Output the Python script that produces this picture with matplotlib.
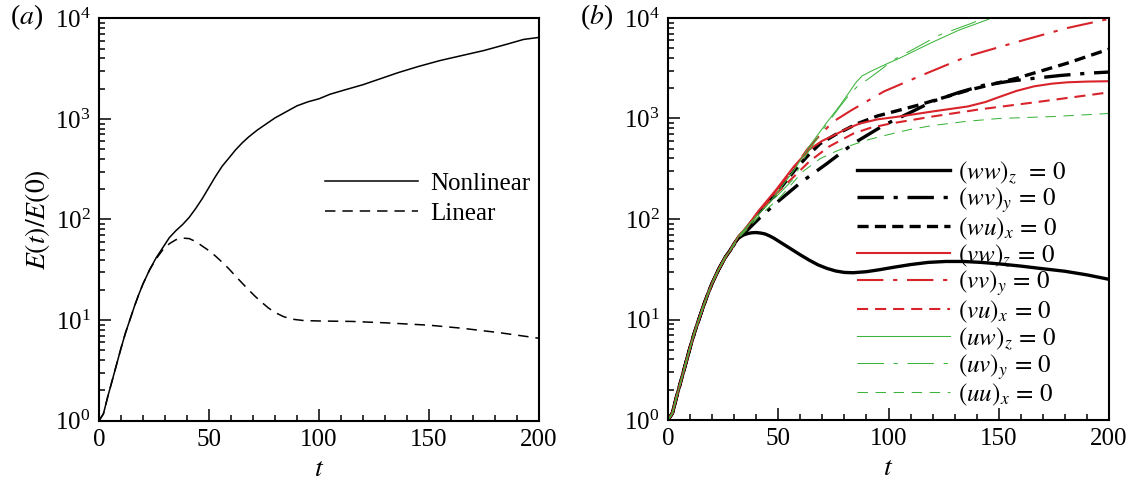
import matplotlib
matplotlib.use("Agg")
import matplotlib.pyplot as plt
from matplotlib.ticker import MultipleLocator, LogLocator, NullFormatter
import numpy as np

plt.rcParams['font.family'] = ['Liberation Serif', 'DejaVu Serif']
plt.rcParams['mathtext.fontset'] = 'stix'
plt.rcParams['lines.scale_dashes'] = False
plt.rcParams['font.size'] = 18

# ---- panel (a) data ----
t_nonlin = [0, 2, 4, 6, 8, 10, 12, 14, 16, 18, 20, 23, 26, 29, 32, 35, 38, 41, 44, 47, 50,
            53, 56, 59, 62, 65, 68, 72, 76, 80, 85, 90, 95, 100, 105, 112, 120, 128, 136,
            145, 155, 165, 175, 185, 193, 200]
E_nonlin = [1, 1.17, 1.74, 2.51, 3.63, 5.25, 7.41, 10, 13.5, 17.8, 22.9, 31.6, 41.7, 52.5,
            66.1, 77.6, 89.1, 105, 129, 162, 209, 269, 339, 407, 490, 575, 661, 776, 891,
            1023, 1175, 1349, 1479, 1585, 1758, 1950, 2188, 2512, 2884, 3311, 3802, 4266,
            4786, 5495, 6166, 6457]
t_lin = [0, 2, 4, 6, 8, 10, 12, 14, 16, 18, 20, 23, 26, 29, 32, 35, 38, 41, 44, 47, 50, 53,
         56, 59, 62, 65, 68, 71, 74, 77, 80, 84, 88, 93, 100, 115, 130, 150, 165, 182, 200]
E_lin = [1, 1.17, 1.74, 2.51, 3.63, 5.25, 7.41, 10, 13.5, 17.8, 22.9, 31.6, 40.7, 50, 57.5,
         63, 65.3, 64.6, 60.3, 54.3, 49, 43.2, 37.6, 32.4, 27.5, 23.4, 20, 17.2, 15, 13.2,
         11.9, 10.8, 10.2, 9.9, 9.8, 9.7, 9.4, 8.9, 8.3, 7.5, 6.6]

# ---- panel (b) data ----
t_early = [0, 2, 4, 6, 8, 10, 12, 14, 16, 18, 20, 23, 26, 28]
E_early = [1, 1.17, 1.74, 2.51, 3.63, 5.25, 7.41, 10, 13.5, 17.8, 22.9, 31.6, 41.7, 48]

t_ww = [30, 32, 34, 36, 38, 40, 42, 44, 46, 48, 50, 53, 56, 60, 64, 68, 72, 76, 80, 84, 90,
        96, 102, 110, 118, 126, 134, 142, 150, 160, 170, 180, 190, 200]
E_ww = [57, 64.6, 69, 71.5, 73, 73.3, 72.5, 71, 68, 64.5, 60.5, 55, 50, 44, 39, 35, 32.3,
        30.4, 29.4, 29.2, 29.9, 31.3, 33, 35.2, 37, 37.8, 37.8, 37, 35.8, 34, 32, 30.2,
        27.8, 25.1]
t_wv = [32, 36, 43, 50, 60, 72, 84, 98, 110, 120, 132, 143, 155, 166, 178, 190, 200]
E_wv = [64.6, 77.6, 110, 150, 229, 355, 562, 861, 1150, 1479, 1820, 2138, 2350, 2512, 2680,
        2818, 2900]
t_wu = [32, 36, 41, 49, 58, 64, 69, 76, 86, 95, 113, 136, 158, 181, 200]
E_wu = [66, 83, 115, 178, 316, 440, 562, 692, 891, 1060, 1349, 1905, 2512, 3548, 4900]
t_vw = [32, 36, 41, 49, 57, 64, 70, 75, 81, 87, 95, 105, 120, 136, 144, 151, 158, 166, 174,
        181, 190, 200]
E_vw = [67.6, 85, 120, 195, 331, 490, 600, 676, 790, 891, 980, 1047, 1175, 1318, 1460, 1660,
        1880, 2089, 2220, 2291, 2330, 2350]
t_vv = [32, 36, 41, 49, 57, 63, 70, 75, 83, 98, 114, 136, 158, 181, 200]
E_vv = [66, 83, 117, 191, 316, 490, 724, 933, 1202, 1862, 2630, 4169, 5754, 7943, 9800]
t_vu = [32, 36, 41, 49, 57, 64, 73, 84, 92, 101, 120, 141, 166, 200]
E_vu = [66, 83, 115, 178, 263, 372, 525, 708, 810, 891, 1047, 1230, 1445, 1820]
t_uw = [32, 36, 41, 46, 57, 64, 72, 78, 82, 85, 88, 92, 98, 105, 120, 132, 144.5, 151]
E_uw = [67.6, 85, 112, 145, 302, 525, 912, 1350, 1800, 2250, 2650, 2950, 3400, 3981, 5754,
        7586, 9550, 11000]
t_uv = [32, 36, 41, 49, 57, 61, 70, 78, 82, 86, 90, 96, 102, 113, 123, 138, 145]
E_uv = [66, 83, 112, 166, 251, 380, 759, 1318, 1700, 2100, 2400, 3000, 3800, 5129, 6761,
        8913, 10471]
t_uu = [32, 36, 41, 51, 61, 69, 76, 84, 92, 100, 110, 120, 135, 150, 175, 200]
E_uu = [64.6, 79.4, 105, 166, 295, 398, 470, 550, 625, 692, 780, 851, 935, 1000, 1047, 1122]

labels_b = [r"$(ww)_z\ \,=\, 0$", r"$(wv)_y \,=\, 0$", r"$(wu)_x \,=\, 0$",
            r"$(vw)_z \,=\, 0$", r"$(vv)_y \,=\, 0$", r"$(vu)_x \,=\, 0$",
            r"$(uw)_z \,=\, 0$", r"$(uv)_y \,=\, 0$", r"$(uu)_x \,=\, 0$"]

RED = '#d8232a'
GREEN = '#3cb43c'
DASHDOT = (0, (19, 7, 3, 7))

fig = plt.figure(figsize=(11.36, 4.86), dpi=100)
ax1 = fig.add_axes([99 / 1136, 65.3 / 486, 440 / 1136, 402.4 / 486])
ax2 = fig.add_axes([668 / 1136, 66 / 486, 441 / 1136, 402 / 486])


def style_axis(ax):
    ax.set_yscale('log')
    ax.set_xlim(0, 200)
    ax.set_ylim(1, 1e4)
    ax.xaxis.set_major_locator(MultipleLocator(50))
    ax.xaxis.set_minor_locator(MultipleLocator(10))
    ax.yaxis.set_major_locator(LogLocator(base=10, numticks=10))
    ax.yaxis.set_minor_locator(LogLocator(base=10, subs=np.arange(2, 10), numticks=20))
    ax.yaxis.set_minor_formatter(NullFormatter())
    ax.tick_params(which='both', direction='in', top=False, right=False,
                   width=1.1, labelsize=18)
    ax.tick_params(which='major', length=8.5, pad=6)
    ax.tick_params(which='minor', length=4.5)
    for s in ax.spines.values():
        s.set_linewidth(1.5)
    ax.set_xlabel(r"$t$", fontsize=20, labelpad=4)


# (a)
ax1.plot(t_nonlin, E_nonlin, color='black', lw=1.1, label='Nonlinear')
ax1.plot(t_lin, E_lin, color='black', lw=1.1, linestyle=(0, (7.5, 5)), label='Linear')
style_axis(ax1)
ax1.set_ylabel(r"$E(t)/E(0)$", fontsize=20, labelpad=2)
ax1.legend(loc='upper left', bbox_to_anchor=(0.514, 0.618), frameon=False, fontsize=18,
           handlelength=3.72, handletextpad=0.48, labelspacing=0.3,
           borderpad=0, borderaxespad=0)

# (b)
series = [
    (t_ww, E_ww, 'black', 2.4, '-'),
    (t_wv, E_wv, 'black', 2.4, DASHDOT),
    (t_wu, E_wu, 'black', 2.4, (0, (8, 4.5))),
    (t_vw, E_vw, RED, 1.5, '-'),
    (t_vv, E_vv, RED, 1.5, DASHDOT),
    (t_vu, E_vu, RED, 1.5, (0, (8, 5))),
    (t_uw, E_uw, GREEN, 0.75, '-'),
    (t_uv, E_uv, GREEN, 0.75, DASHDOT),
    (t_uu, E_uu, GREEN, 0.75, (0, (7.5, 5.5))),
]
for (tt, ee, c, lw, ls), lab in zip(series, labels_b):
    ax2.plot(t_early + tt, E_early + ee, color=c, lw=lw, linestyle=ls, label=lab)
style_axis(ax2)
ax2.legend(loc='upper left', bbox_to_anchor=(0.4286, 0.65), frameon=False, fontsize=18,
           handlelength=3.72, handletextpad=0.32, labelspacing=0.0,
           borderpad=0, borderaxespad=0)

fig.text(10 / 1136, 1 - 17 / 486, r"($a$)", fontsize=20, va='center', ha='left')
fig.text(580 / 1136, 1 - 17 / 486, r"($b$)", fontsize=20, va='center', ha='left')

fig.savefig("out.png", dpi=100)
